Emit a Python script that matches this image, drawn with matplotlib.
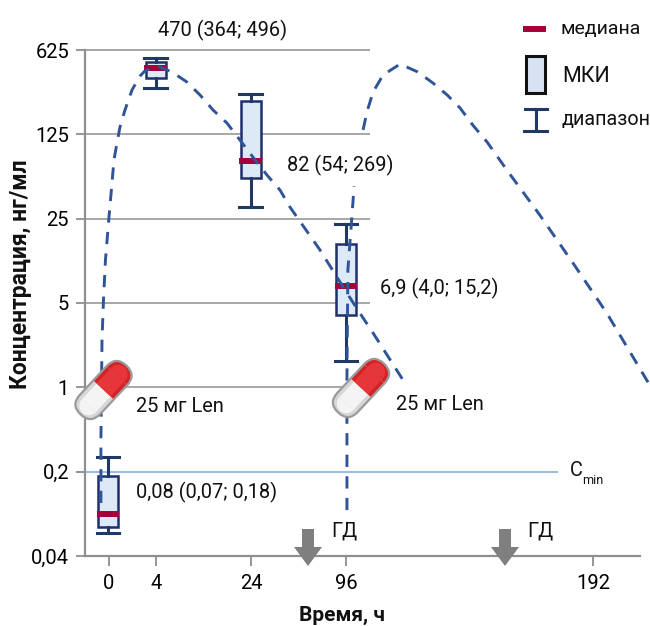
import matplotlib
matplotlib.use('Agg')
import matplotlib.pyplot as plt
from matplotlib.patches import FancyBboxPatch, Rectangle, Polygon, Wedge
from matplotlib.transforms import Affine2D

plt.rcParams['font.family'] = ['Roboto', 'DejaVu Sans']

# time axis is not to scale, so things sit on "slots"
time_labels = ['0', '4', '24', '96', '192']
time_slots = [0, 1, 3, 5, 10.19]

conc_ticks = [0.04, 0.2, 1, 5, 25, 125, 625]
conc_labels = ['0,04', '0,2', '1', '5', '25', '125', '625']

box_slots = [-0.02, 0.98, 2.98, 4.99]
whisker_hi = [0.264, 536, 270, 22.6]
q3 = [0.184, 497, 236, 15.4]
medians = [0.089, 443, 75, 6.91]
q1 = [0.0695, 366, 54.3, 3.97]
whisker_lo = [0.062, 303, 31.2, 1.65]

dose1_x = [-.17, -.17, -.147, -.116, -.074, 0, .063, .105, .168, .232, .337, .484, .653, .758,
           1.01, 1.326, 1.642, 1.916, 2.19, 2.484, 2.758, 3.03, 3.326, 3.6, 3.81, 4.44, 4.93,
           5.24, 5.56, 6.23]
dose1_y = [.110, .366, 2.47, 5.3, 11.4, 25.8, 49.4, 76.6, 106, 144, 199, 291, 380, 420,
           460, 411, 339, 265, 199, 155, 112, 81, 57.5, 43.2, 31.2, 13.8, 6.78,
           4.37, 2.82, 1.087]
dose2a_x = [5.01, 5.01, 5.01, 5.03, 5.12, 5.16]
dose2a_y = [.096, .366, 1.22, 9.39, 27.9, 46.6]
dose2b_x = [5.35, 5.43, 5.56, 5.77, 6.13, 6.5, 6.82, 7.12, 7.39, 7.66, 7.96, 8.38, 9.07, 9.77,
            10.48, 11.35]
dose2b_y = [136, 191, 280, 388, 478, 411, 333, 265, 207, 149, 108, 63, 26.8, 10.7, 4.13, 1.1]

cmin = 0.2

GRAY = '#8f8f8f'
NAVY = '#1f3864'
CURVE = '#2f5597'
RED = '#a6003a'

fig = plt.figure(figsize=(6.5, 6.26), dpi=100)
ax = fig.add_axes([85/650, (626-556)/626, (640-85)/650, (556-50)/626])
ax.set_yscale('log', base=5)
ax.set_ylim(0.04, 625)
ax.set_xlim(-0.505, 11.18)
ax.minorticks_off()
ax.set_yticks(conc_ticks, conc_labels)
ax.set_xticks(time_slots, time_labels)
ax.tick_params(axis='y', length=6.5, width=1.3, color=GRAY, labelsize=14.5, pad=5)
ax.tick_params(axis='x', length=7, width=1.3, color=GRAY, labelsize=14.5, pad=6)
ax.tick_params(axis='both', which='minor', length=0)
ax.spines['top'].set_visible(False)
ax.spines['right'].set_visible(False)
for s in ['left', 'bottom']:
    ax.spines[s].set_color(GRAY)
    ax.spines[s].set_linewidth(1.6)

# grid lines stop halfway
ax.hlines(conc_ticks[1:], -0.505, 5.49, color='#a0a0a0', lw=1.3, zorder=1, clip_on=False)
ax.hlines(cmin, -0.695, 9.45, color='#9dbce3', lw=1.5, zorder=1.5, clip_on=False)

stats = []
for i in range(len(box_slots)):
    stats.append({'med': medians[i], 'q1': q1[i], 'q3': q3[i],
                  'whislo': whisker_lo[i], 'whishi': whisker_hi[i], 'fliers': []})
ax.bxp(stats, positions=box_slots, widths=0.42, capwidths=0.48, patch_artist=True,
       manage_ticks=False, showfliers=False, zorder=3,
       boxprops=dict(facecolor='#dce9f7', edgecolor='#1f2f6b', linewidth=1.8),
       whiskerprops=dict(color=NAVY, linewidth=2.2),
       capprops=dict(color=NAVY, linewidth=2.2),
       medianprops=dict(linewidth=0))
for x, m in zip(box_slots, medians):
    ax.plot([x-0.24, x+0.24], [m, m], color=RED, lw=4.3, solid_capstyle='butt', zorder=4)

for xs, ys in [(dose1_x, dose1_y), (dose2a_x, dose2a_y), (dose2b_x, dose2b_y)]:
    ax.plot(xs, ys, color=CURVE, lw=2.1, dashes=(4.2, 3.2), zorder=5, clip_on=False)

# free floating stuff goes on an overlay in pixels
ov = fig.add_axes([0, 0, 1, 1], facecolor='none')
ov.set_xlim(0, 650)
ov.set_ylim(626, 0)
ov.axis('off')


def half_capsule(tr, L, W, side, color, z):
    # side=1 is the red end, side=-1 the white one
    r = W/2
    c = side*(L/2-r)
    x0 = min(0, c)
    ov.add_patch(Rectangle((x0, -r), abs(c), W, fc=color, ec='none', transform=tr, zorder=z))
    a = (-90, 90) if side > 0 else (90, 270)
    ov.add_patch(Wedge((c, 0), r, a[0], a[1], fc=color, ec='none', transform=tr, zorder=z))


def pill(cx, cy):
    tr = Affine2D().rotate_deg(-47).translate(cx, cy) + ov.transData
    L, W = 67, 28
    half_capsule(tr, L, W, -1, '#d6d6d6', 7)
    half_capsule(tr, L, W, 1, '#d42327', 7)
    half_capsule(tr, L-5, W-9, -1, '#f4f4f4', 8)
    half_capsule(tr, L-5, W-9, 1, '#e7363a', 8)
    ov.add_patch(FancyBboxPatch((-L/2, -W/2), L, W, boxstyle=f'round,pad=0,rounding_size={W/2}',
                                fc='none', ec='#9a9a9a', lw=1.6, transform=tr, zorder=9))


pill(103.5, 390)
pill(361, 388)


def down_arrow(cx):
    ov.add_patch(Polygon([(cx-6, 529), (cx+6, 529), (cx+6, 547), (cx+14, 547), (cx, 566),
                          (cx-14, 547), (cx-6, 547)], fc='#7f7f7f', ec='none', zorder=8))


down_arrow(308)
down_arrow(505)

notes = [('470 (364; 496)', 158, 30), ('82 (54; 269)', 287, 165), ('6,9 (4,0; 15,2)', 380, 288),
         ('25 мг Len', 136, 406), ('25 мг Len', 396, 405), ('0,08 (0,07; 0,18)', 136, 492),
         ('ГД', 331, 531), ('ГД', 527, 531)]
for s, x, y in notes:
    ov.text(x, y, s, fontsize=14.4, ha='left', va='center', color='#111111', zorder=10)
ov.text(570, 471, 'C', fontsize=14.4, ha='left', va='center', color='#111111')
ov.text(582, 481, 'min', fontsize=9, ha='left', va='center', color='#111111')

ov.text(21, 274, 'Концентрация, нг/мл', fontsize=16.5, fontweight='bold', rotation=90,
        ha='center', va='center', color='#111111')
ov.text(342, 615, 'Время, ч', fontsize=15, fontweight='bold', ha='center', va='center',
        color='#111111')

# legend
ov.plot([523, 546], [29, 29], color=RED, lw=4.3, solid_capstyle='butt')
ov.text(561, 29, 'медиана', fontsize=14, ha='left', va='center', color='#111111')
ov.add_patch(Rectangle((526, 56), 19, 37, fc='#d9e2f3', ec='#111111', lw=2.2))
ov.text(562, 76, 'МКИ', fontsize=15.5, ha='left', va='center', color='#111111')
ov.plot([536, 536], [109, 131], color=NAVY, lw=2.2)
ov.plot([525, 547], [109, 109], color=NAVY, lw=2.2)
ov.plot([524, 547], [131, 131], color=NAVY, lw=2.2)
ov.text(561, 120, 'диапазон', fontsize=14.2, ha='left', va='center', color='#111111')

fig.savefig('out.png', dpi=100)
